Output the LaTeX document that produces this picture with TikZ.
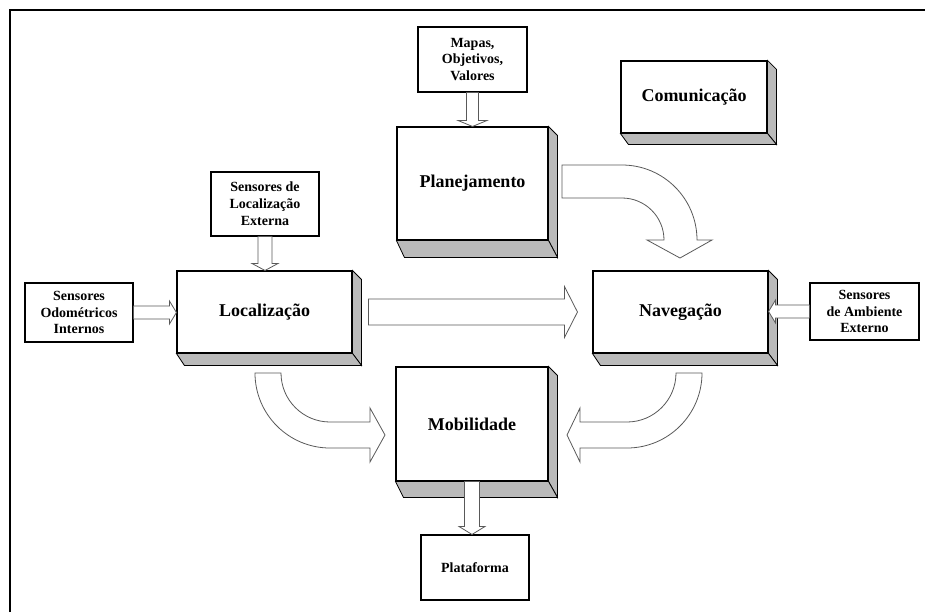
\documentclass[tikz,border=0pt]{standalone}
\usepackage{fontspec}
\setmainfont{Liberation Serif}
\usepackage{tikz}
\usetikzlibrary{calc}

% hollow block arrows between two anchors: #3 half shaft, #4 half head, #5 head length
\newcommand{\blockdown}[5]{%
  \draw[hollow] ($(#1)+(-#3,0)$) -- ($(#1|-#2)+(-#3,-#5)$) -- ($(#1|-#2)+(-#4,-#5)$)
    -- (#1|-#2) -- ($(#1|-#2)+(#4,-#5)$) -- ($(#1|-#2)+(#3,-#5)$) -- ($(#1)+(#3,0)$) -- cycle;}
\newcommand{\blockright}[5]{%
  \draw[hollow] ($(#1)+(0,-#3)$) -- ($(#2|-#1)+(-#5,-#3)$) -- ($(#2|-#1)+(-#5,-#4)$)
    -- (#2|-#1) -- ($(#2|-#1)+(-#5,#4)$) -- ($(#2|-#1)+(-#5,#3)$) -- ($(#1)+(0,#3)$) -- cycle;}
\newcommand{\blockleft}[5]{%
  \draw[hollow] ($(#1)+(0,-#3)$) -- ($(#2|-#1)+(#5,-#3)$) -- ($(#2|-#1)+(#5,-#4)$)
    -- (#2|-#1) -- ($(#2|-#1)+(#5,#4)$) -- ($(#2|-#1)+(#5,#3)$) -- ($(#1)+(0,#3)$) -- cycle;}

\begin{document}
\begin{tikzpicture}[
  x=0.75pt, y=-0.75pt,
  sz/.style 2 args={minimum width=#1*0.75pt, minimum height=#2*0.75pt},
  cube/.style={draw, fill=white, line width=0.8pt, inner sep=0pt,
               font=\bfseries\fontsize{13.5}{16}\selectfont},
  src/.style={draw, fill=white, line width=0.8pt, inner sep=0pt, align=center,
              font=\bfseries\fontsize{10.5}{12.6}\selectfont},
  face/.style={fill=black!27, draw=black, line width=0.6pt},
  hollow/.style={draw=black!65, fill=white, line width=0.6pt},
  ]
  \useasboundingbox (0,0) rectangle (925,612);

  % --- frame (only top and left edges show) ---
  \draw[line width=2.2pt] (10,612) -- (10,10) -- (925,10);

  % --- blocks ---
  \node[src, sz={109}{65}]  (mapas) at (472.5,59.5)  {Mapas,\\Objetivos,\\Valores};
  \node[cube, sz={151}{113}] (plan)  at (472.5,183.5) {Planejamento};
  \node[cube, sz={146}{72}]  (com)   at (694,97)      {Comunicação};
  \node[src, sz={108}{64}]  (sle)   at (265,204)     {Sensores de\\Localização\\Externa};
  \node[cube, sz={175}{82}]  (loc)   at (264.5,312)   {Localização};
  \node[src, sz={108}{59}]  (odo)   at (79,312.5)    {Sensores\\Odométricos\\Internos};
  \node[cube, sz={175}{82}]  (nav)   at (680.5,312)   {Navegação};
  \node[src, sz={109}{57}]  (amb)   at (864.5,311.5) {Sensores\\de Ambiente\\Externo};
  \node[cube, sz={152}{114}] (mob)   at (472,424)     {Mobilidade};
  \node[src, sz={108}{65}]  (plat)  at (475,567.5)   {Plataforma};

  % --- 3D sides of the main blocks ---
  \foreach \n/\dy in {plan/17, com/11, loc/12, nav/12, mob/16} {
    \filldraw[face] (\n.north east) -- ++(9,9) -- ($(\n.south east)+(9,\dy)$)
      -- (\n.south east) -- cycle;
    \filldraw[face] (\n.south west) -- ($(\n.south west)+(8,\dy)$)
      -- ($(\n.south east)+(9,\dy)$) -- (\n.south east) -- cycle;
  }

  % --- straight arrows ---
  \blockdown{mapas.south}{plan.north}{6}{14.5}{6}
  \blockdown{sle.south}{loc.north}{7}{13}{7}
  \blockright{odo.east}{loc.west}{6.5}{11.5}{7}
  \blockleft{amb.west}{nav.east}{6.5}{11.5}{7}
  \coordinate (ln1) at ($(loc.east)+(16,0)$);
  \coordinate (ln2) at ($(nav.west)+(-15,0)$);
  \blockright{ln1}{ln2}{13}{25.5}{13}
  \blockdown{mob.south}{plat.north}{7.5}{13}{8}

  % --- curved arrows ---
  % Planejamento -> Navegacao
  \draw[hollow] (562,165) -- (622,165) .. controls (663.4,165) and (697,198.6) .. (697,240)
    -- (712,240) -- (680,258) -- (647,240) -- (664,240)
    .. controls (664,216.8) and (645.2,198) .. (622,198) -- (562,198) -- cycle;
  % Localizacao -> Mobilidade
  \draw[hollow] (255,373) .. controls (255,414.4) and (288.6,448) .. (330,448)
    -- (370,448) -- (370,462) -- (385,435) -- (370,408) -- (370,422) -- (330,422)
    .. controls (303,422) and (281,400) .. (281,373) -- cycle;
  % Navegacao -> Mobilidade
  \draw[hollow] (702,373) .. controls (702,414.4) and (668.4,448) .. (627,448)
    -- (580,448) -- (580,462) -- (567,435) -- (580,408) -- (580,422) -- (627,422)
    .. controls (654,422) and (676,400) .. (676,373) -- cycle;

\end{tikzpicture}
\end{document}
